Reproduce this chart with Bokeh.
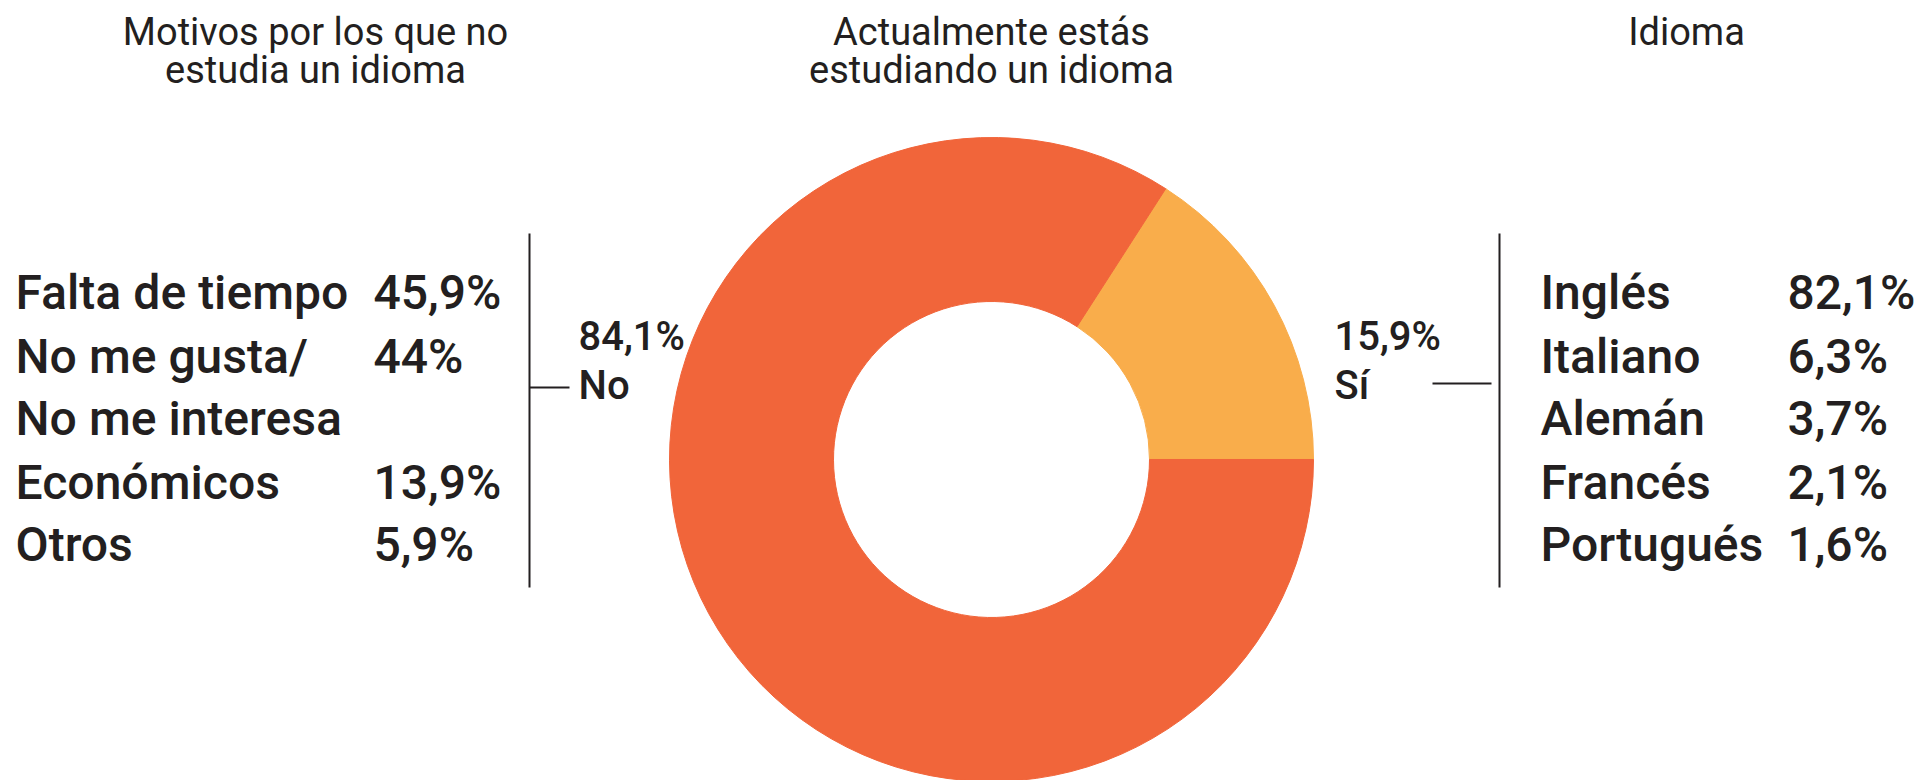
from bokeh.plotting import figure
from bokeh.models import ColumnDataSource, Range1d
from bokeh.core.properties import value
from bokeh.embed import file_html
from bokeh.resources import INLINE
import math

# ---------------- data ----------------
study_categories = ["Sí", "No"]
study_values = [15.9, 84.1]
study_colors = ["#F9AD4B", "#F1653A"]

reason_labels = ["Falta de tiempo", "No me gusta/", "No me interesa", "Económicos", "Otros"]
reason_values = ["45,9%", "44%", "", "13,9%", "5,9%"]

language_labels = ["Inglés", "Italiano", "Alemán", "Francés", "Portugués"]
language_values = ["82,1%", "6,3%", "3,7%", "2,1%", "1,6%"]

titles = ["Motivos por los que no\nestudia un idioma", "Actualmente estás\nestudiando un idioma", "Idioma"]

# ---------------- layout helpers ----------------
W, H = 1919, 780
def X(sx):
    return sx
def Y(sy):
    return H - sy

FONT = value("Roboto")
BFONT = value("Roboto Medium")
DARK = "#231F20"

p = figure(width=W, height=H, x_range=Range1d(0, W), y_range=Range1d(0, H),
           output_backend="svg", toolbar_location=None, min_border=0)
p.axis.visible = False
p.grid.visible = False
p.outline_line_color = None
p.background_fill_color = "white"
p.border_fill_color = "white"

# ---------------- donut ----------------
total = sum(study_values)
starts, ends = [], []
acc = 0.0
for v in study_values:
    starts.append(2 * math.pi * acc / total)
    acc += v
    ends.append(2 * math.pi * acc / total)
donut = ColumnDataSource(dict(cat=study_categories, val=study_values, color=study_colors,
                              start=starts, end=ends))
p.annular_wedge(x=X(991), y=Y(459), inner_radius=158, outer_radius=322,
                start_angle="start", end_angle="end", color="color", source=donut)

# ---------------- titles ----------------
title_x = [X(315), X(991), X(1686)]
for t, tx in zip(titles, title_x):
    lines = t.split("\n")
    for i, line in enumerate(lines):
        p.text(x=[tx], y=[Y(31 + 38 * i)], text=[line], text_font=FONT, text_font_size="38px",
               text_color=DARK, text_align="center", text_baseline="alphabetic")

# ---------------- left list ----------------
row_base = [292, 356, 418, 482, 544]
BSIZE = "48px"
left_src = ColumnDataSource(dict(x=[X(15)] * 5, y=[Y(b) for b in row_base], text=reason_labels))
p.text(x="x", y="y", text="text", source=left_src, text_font=BFONT, text_font_size=BSIZE,
       text_color=DARK, text_baseline="alphabetic")
left_val = ColumnDataSource(dict(x=[X(373)] * 5, y=[Y(b) for b in row_base], text=reason_values))
p.text(x="x", y="y", text="text", source=left_val, text_font=BFONT, text_font_size=BSIZE,
       text_color=DARK, text_baseline="alphabetic")

# ---------------- right list ----------------
right_src = ColumnDataSource(dict(x=[X(1540)] * 5, y=[Y(b) for b in row_base], text=language_labels))
p.text(x="x", y="y", text="text", source=right_src, text_font=BFONT, text_font_size=BSIZE,
       text_color=DARK, text_baseline="alphabetic")
right_val = ColumnDataSource(dict(x=[X(1787)] * 5, y=[Y(b) for b in row_base], text=language_values))
p.text(x="x", y="y", text="text", source=right_val, text_font=BFONT, text_font_size=BSIZE,
       text_color=DARK, text_baseline="alphabetic")

# ---------------- donut labels ----------------
no_pct = f"{study_values[1]:.1f}%".replace(".", ",")
si_pct = f"{study_values[0]:.1f}%".replace(".", ",")
p.text(x=[X(578), X(578)], y=[Y(336), Y(385)], text=[no_pct, study_categories[1]], text_font=BFONT,
       text_font_size="40px", text_color=DARK, text_baseline="alphabetic")
p.text(x=[X(1334), X(1334)], y=[Y(336), Y(385)], text=[si_pct, study_categories[0]], text_font=BFONT,
       text_font_size="40px", text_color=DARK, text_baseline="alphabetic")

# ---------------- connector lines ----------------
p.line(x=[X(529), X(529)], y=[Y(233), Y(587)], line_color=DARK, line_width=2)
p.line(x=[X(529), X(569)], y=[Y(387), Y(387)], line_color=DARK, line_width=2)
p.line(x=[X(1499), X(1499)], y=[Y(233), Y(587)], line_color=DARK, line_width=2)
p.line(x=[X(1432), X(1491)], y=[Y(383), Y(383)], line_color=DARK, line_width=2)

open("out.html", "w").write(file_html(p, INLINE))
